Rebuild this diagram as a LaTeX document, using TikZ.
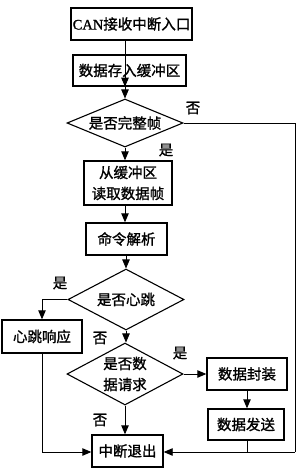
\documentclass[tikz,border=0pt]{standalone}
\usepackage{fontspec}
\setmainfont{Noto Sans CJK SC}[FakeBold=1.2]
\newfontfamily\latfont{Liberation Serif}[FakeBold=1.2]
\usetikzlibrary{shapes.geometric,arrows.meta}
\begin{document}
\begin{tikzpicture}[x=1pt,y=-1pt,
  every node/.style={font=\fontsize{14.5}{21}\selectfont},
  box/.style={draw,line width=1.4pt,rectangle,inner sep=0pt,align=center},
  dia/.style={draw,line width=1.1pt,diamond,inner sep=0pt,align=center},
  line/.style={line width=0.9pt},
  arr/.style={line width=0.9pt,-{Triangle[length=9pt,width=7.5pt]}},
  lbl/.style={inner sep=0pt}]
\useasboundingbox (0,0) rectangle (300,471);
\node[box,minimum width=121pt,minimum height=32pt] (b1) at (131.5,24) {{\latfont CAN}接收中断入口};
\node[box,minimum width=113pt,minimum height=31pt] (b2) at (129.5,70.5) {数据存入缓冲区};
\node[dia,minimum width=116pt,minimum height=48pt,aspect=2.4] (d1) at (125,123) {是否完整帧};
\node[box,minimum width=88pt,minimum height=44pt] (b3) at (128,183) {从缓冲区\\读取数据帧};
\node[box,minimum width=81pt,minimum height=32pt] (b4) at (126.5,239) {命令解析};
\node[dia,minimum width=116pt,minimum height=61pt,aspect=1.9] (d2) at (126,299.5) {是否心跳};
\node[box,minimum width=80pt,minimum height=33pt] (b5) at (42,336.5) {心跳响应};
\node[dia,minimum width=116pt,minimum height=62pt,aspect=1.87] (d3) at (125,374) {是否数\\据请求};
\node[box,minimum width=80pt,minimum height=32pt] (b6) at (247,374) {数据封装};
\node[box,minimum width=76pt,minimum height=31pt] (b7) at (246,424.5) {数据发送};
\node[box,minimum width=71pt,minimum height=32pt] (b8) at (127.5,451) {中断退出};
\coordinate (rt) at (295,123);
\coordinate (rb) at (295,452);
\coordinate (lb) at (42,452);
\coordinate (sj) at (247,452);
% labels
\node[lbl] (n1) at (193,108) {否};
\node[lbl] (y1) at (166,150) {是};
\node[lbl] (y2) at (60,283) {是};
\node[lbl] (n2) at (100,338) {否};
\node[lbl] (y3) at (180,353) {是};
\node[lbl] (n3) at (100,420) {否};
% connectors
\draw[arr] (b1.south -| d1.north) -- (b2.south -| d1.north |- b2.north);
\draw[arr] (b2.south -| d1.north) -- (d1.north);
\draw[line] (d1.east) -- (rt) -- (rb);
\draw[arr] (rb) -- (b8.east |- rb);
\draw[arr] (d1.south) -- (d1.south |- b3.north);
\draw[arr] (b3.south -| d1.south) -- (d1.south |- b4.north);
\draw[arr] (b4.south -| d2.north) -- (d2.north);
\draw[arr] (d2.west) -| (b5.north);
\draw[arr] (d2.south) -- (d2.south |- d3.north);
\draw[arr] (d3.east) -- (b6.west);
\draw[arr] (b6.south -| sj) -- (b7.north -| sj);
\draw[arr] (d3.south) -- (d3.south |- b8.north);
\draw[line] (b5.south) -- (lb);
\draw[arr] (lb) -- (b8.west |- lb);
\draw[line] (b7.south -| sj) -- (sj);
\end{tikzpicture}
\end{document}
